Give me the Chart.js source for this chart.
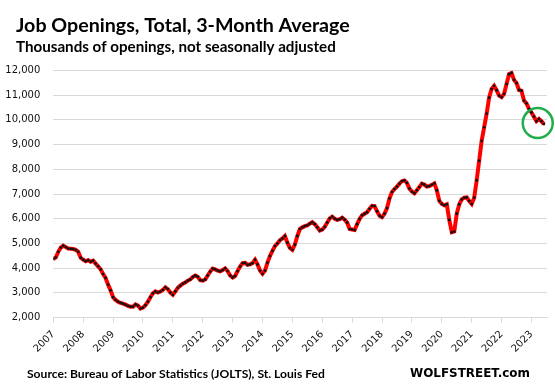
<!DOCTYPE html>
<html><head><meta charset="utf-8">
<script src="https://cdn.jsdelivr.net/npm/chart.js@4/dist/chart.umd.min.js"></script>
<style>html,body{margin:0;padding:0;background:#fff;}</style>
</head><body>
<canvas id="c" width="555" height="390"></canvas>
<script>
const titleText = 'Job Openings, Total, 3-Month Average';
const subtitleText = 'Thousands of openings, not seasonally adjusted';
const sourceText = 'Source: Bureau of Labor Statistics (JOLTS), St. Louis Fed';
const brandText = 'WOLFSTREET.com';

const startYear = 2007;   // first value = Jan 2007, monthly
const yearLabels = ['2007','2008','2009','2010','2011','2012','2013','2014','2015','2016','2017','2018','2019','2020','2021','2022','2023'];
const yTickValues = [2000,3000,4000,5000,6000,7000,8000,9000,10000,11000,12000];

const y2007 = [4370,4430,4660,4830,4910,4850,4790,4780,4770,4740,4660,4420];
const y2008 = [4340,4280,4320,4260,4300,4180,4070,3950,3760,3600,3330,3100];
const y2009 = [2820,2710,2640,2590,2560,2520,2470,2440,2440,2530,2480,2360];
const y2010 = [2400,2500,2640,2820,2980,3060,3010,3050,3120,3220,3150,3010];
const y2011 = [2920,3060,3200,3290,3370,3420,3490,3540,3640,3700,3650,3510];
const y2012 = [3490,3540,3700,3860,3980,3950,3900,3870,3920,3990,3880,3700];
const y2013 = [3620,3680,3880,4060,4200,4210,4130,4150,4200,4340,4150,3900];
const y2014 = [3770,3900,4220,4490,4700,4890,5000,5130,5200,5300,5030,4820];
const y2015 = [4740,4950,5300,5580,5650,5700,5730,5800,5860,5780,5650,5520];
const y2016 = [5560,5670,5850,6010,6080,6000,5950,5980,6040,5960,5840,5580];
const y2017 = [5560,5540,5780,5990,6140,6200,6260,6400,6520,6510,6300,6120];
const y2018 = [6060,6200,6430,6820,7080,7200,7300,7420,7520,7550,7450,7220];
const y2019 = [7100,7030,7150,7280,7420,7380,7300,7320,7370,7430,7150,6720];
const y2020 = [6600,6540,6580,5950,5450,5480,6200,6580,6780,6850,6860,6720];
const y2021 = [6600,6850,7550,8350,9150,9700,10250,10900,11250,11380,11200,10980];
const y2022 = [10920,11050,11450,11850,11900,11620,11490,11210,11180,10780,10670,10450];
const y2023 = [10300,10130,9950,10040,9950,9830];

// highlight circle around the latest readings (data coordinates)
const highlightX = 2023.21;
const highlightY = 9870;

const allValues = [].concat(y2007,y2008,y2009,y2010,y2011,y2012,y2013,y2014,y2015,y2016,y2017,y2018,y2019,y2020,y2021,y2022,y2023);
const points = allValues.map((v, i) => ({x: startYear + i / 12, y: v}));

const textPlugin = {
  id: 'texts',
  afterDraw(chart) {
    const ctx = chart.ctx;
    ctx.save();
    ctx.fillStyle = '#000';
    ctx.textAlign = 'left';
    ctx.textBaseline = 'alphabetic';
    function fit(text, x, y, w, weight, family, maxSize) {
      ctx.font = weight + ' ' + maxSize + 'px ' + family;
      const m = ctx.measureText(text).width;
      const size = Math.min(maxSize, maxSize * w / m);
      ctx.font = weight + ' ' + size + 'px ' + family;
      ctx.fillText(text, x, y);
    }
    fit(titleText, 16, 32, 334, 'bold', 'Lato, "Noto Sans", sans-serif', 22);
    fit(subtitleText, 16, 52, 320, 'bold', 'Lato, "Noto Sans", sans-serif', 16);
    fit(sourceText, 27, 378, 298, 'bold', 'Lato, "Noto Sans", sans-serif', 14);
    fit(brandText, 410, 377, 120, 'bold', '"DejaVu Sans", sans-serif', 14);
    // highlight circle
    const xs = chart.scales.x, ys = chart.scales.y;
    ctx.beginPath();
    ctx.strokeStyle = '#1fae4b';
    ctx.lineWidth = 2.5;
    ctx.arc(xs.getPixelForValue(highlightX), ys.getPixelForValue(highlightY), 15, 0, Math.PI * 2);
    ctx.stroke();
    ctx.restore();
  }
};

new Chart(document.getElementById('c'), {
  type: 'line',
  data: {
    datasets: [{
      data: points,
      borderColor: '#ff0000',
      borderWidth: 4,
      tension: 0,
      pointRadius: 1.4,
      pointBackgroundColor: '#111',
      pointBorderWidth: 0,
      pointHoverRadius: 0
    }]
  },
  options: {
    responsive: false,
    animation: false,
    devicePixelRatio: 1,
    layout: {padding: {left: 0, right: 8, top: 70.5, bottom: 0}},
    plugins: {legend: {display: false}, tooltip: {enabled: false}, title: {display: false}},
    scales: {
      x: {
        type: 'linear',
        min: startYear,
        max: 2023.52,
        afterFit: s => { s.height = 72.5; },
        afterBuildTicks: s => { s.ticks = yearLabels.map(l => ({value: Number(l)})); },
        ticks: {
          stepSize: 1,
          includeBounds: false,
          minRotation: 45,
          maxRotation: 45,
          padding: 6,
          color: '#111',
          font: {family: '"DejaVu Sans", sans-serif', size: 10},
          callback: v => String(v)
        },
        grid: {drawOnChartArea: false, drawTicks: true, tickLength: 5, color: '#d9d9d9'},
        border: {display: true, color: '#d9d9d9', width: 1}
      },
      y: {
        min: 2000,
        max: 12000,
        afterFit: s => { s.width = 53.3; },
        afterBuildTicks: s => { s.ticks = yTickValues.map(v => ({value: v})); },
        ticks: {
          padding: 13,
          color: '#111',
          font: {family: '"DejaVu Sans", sans-serif', size: 10},
          callback: v => v.toLocaleString('en-US')
        },
        grid: {color: '#d9d9d9', lineWidth: 1, drawTicks: false},
        border: {display: false}
      }
    }
  },
  plugins: [textPlugin]
});
</script>
</body></html>
